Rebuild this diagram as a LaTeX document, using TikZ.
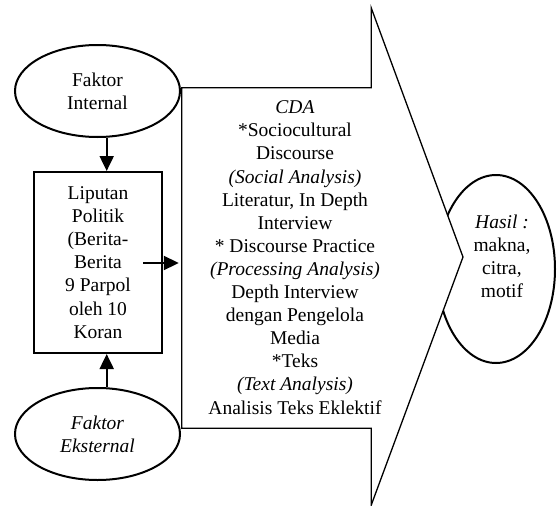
\documentclass[tikz,border=0pt]{standalone}
\usepackage{fontspec}
\setmainfont{Liberation Serif}
\usetikzlibrary{shapes.geometric,arrows.meta}
\begin{document}
\begin{tikzpicture}[x=1pt,y=-1pt,
  txt/.style={font=\fontsize{19.5}{23.1}\selectfont, align=center, inner sep=0pt},
  oval/.style={ellipse, draw, line width=2pt, inner sep=0pt},
  arr/.style={line width=2pt, -{Triangle[width=14pt,length=15pt]}},
]
\useasboundingbox (0,0) rectangle (557,506);
% left column
\node[oval, txt, minimum width=165pt, minimum height=92pt] (ie) at (97.5,91) {Faktor\\Internal};
\node[draw, line width=2pt, txt, minimum width=128pt, minimum height=181pt] (box) at (98,262.5)
  {Liputan\\Politik\\(Berita-\\Berita\\9 Parpol\\oleh 10\\Koran};
\node[oval, txt, font=\fontsize{19.5}{23.1}\selectfont\itshape, minimum width=165pt, minimum height=92pt] (ee) at (97.5,434) {Faktor\\Eksternal};
% result ellipse (partly covered by the big arrow)
\node[oval, minimum width=118pt, minimum height=188pt] (hasil) at (496,269) {};
% big CDA arrow
\node[inner sep=0pt, minimum width=189pt, minimum height=340pt] (cda) at (276.5,258) {};
\coordinate (tip) at (463,257);
\draw[line width=1.3pt, fill=white, line join=miter]
  (cda.north west) -- (cda.north east) -- ++(0,-80) -- (tip)
  -- ([yshift=-77pt]cda.south east) -- (cda.south east) -- (cda.south west) -- cycle;
\node[txt] (cdatxt) at (295,257.5)
  {\textit{CDA}\\*Sociocultural\\Discourse\\\textit{(Social Analysis)}\\Literatur, In Depth\\Interview\\* Discourse Practice\\\textit{(Processing Analysis)}\\Depth Interview\\dengan Pengelola\\Media\\*Teks\\\textit{(Text Analysis)}\\Analisis Teks Eklektif};
\node[txt] (hasiltxt) at (502,256) {\textit{Hasil :}\\makna,\\citra,\\motif};
% connectors
\coordinate (ax) at (106.7,0);
\coordinate (hs) at (143,263);
\draw[arr] (ie.south -| ax) -- (box.north -| ax);
\draw[arr] (ee.north -| ax) -- (box.south -| ax);
\draw[arr, shorten >=3pt] (hs) -- (hs -| cda.west);
\end{tikzpicture}
\end{document}
